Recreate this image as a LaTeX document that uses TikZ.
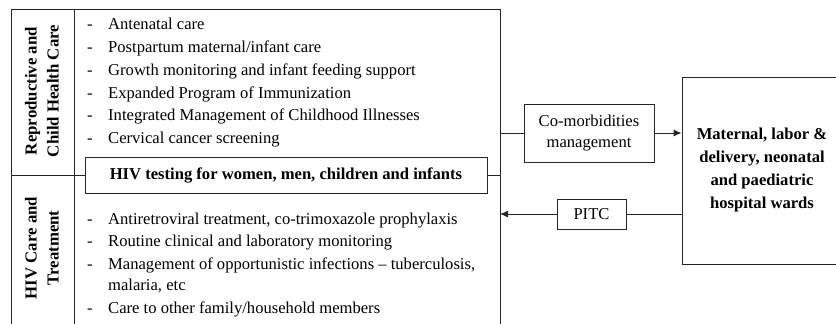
\documentclass[tikz,border=0pt]{standalone}
\usepackage{fontspec}
\setmainfont{Liberation Serif}
\usetikzlibrary{arrows.meta}
\begin{document}
\begin{tikzpicture}[x=1pt,y=-1pt,
  font=\fontsize{16.6}{23}\selectfont,
  ln/.style={line width=0.9pt, draw=black!85},
  box/.style={ln, rectangle, inner sep=0pt},
  itm/.style={anchor=base west, inner sep=0pt},
  arr/.style={ln, -{Latex[length=8pt,width=7pt]}}]
\useasboundingbox (0,0) rectangle (836,324);
% frame of the left panel (open at the bottom)
\coordinate (fBL) at (11,330);
\coordinate (fTL) at (11,9);
\coordinate (fTR) at (500,9);
\coordinate (fBR) at (500,330);
\coordinate (cT) at (74,9);
\coordinate (cB) at (74,330);
\coordinate (lD) at (11,175);
\draw[ln] (fBL) -- (fTL) -- (fTR) -- (fBR);
\draw[ln] (cT) -- (cB);
% section labels
\node[rotate=90, align=center, font=\fontsize{16.8}{22}\selectfont\bfseries] (rch) at (42,91) {Reproductive and\\Child Health Care};
\node[rotate=90, align=center, font=\fontsize{16.8}{22}\selectfont\bfseries] (hct) at (42,248) {HIV Care and\\Treatment};
% upper items
\node[itm] (d1) at (87,29) {-};  \node[itm] (t1) at (108,29) {Antenatal care};
\node[itm] (d2) at (87,52) {-};  \node[itm] (t2) at (108,52) {Postpartum maternal/infant care};
\node[itm] (d3) at (87,75) {-};  \node[itm] (t3) at (108,75) {Growth monitoring and infant feeding support};
\node[itm] (d4) at (87,98) {-};  \node[itm] (t4) at (108,98) {Expanded Program of Immunization};
\node[itm] (d5) at (87,120) {-}; \node[itm] (t5) at (108,120) {Integrated Management of Childhood Illnesses};
\node[itm] (d6) at (87,143) {-}; \node[itm] (t6) at (108,143) {Cervical cancer screening};
% HIV testing box
\node[box, draw, minimum width=402, minimum height=36, font=\fontsize{16.6}{23}\selectfont\bfseries] (hiv) at (286,175) {HIV testing for women, men, children and infants};
\draw[ln] (lD) -- (hiv.west);
% lower items
\node[itm] (e1) at (87,224) {-}; \node[itm] (u1) at (108,224) {Antiretroviral treatment, co-trimoxazole prophylaxis};
\node[itm] (e2) at (87,246) {-}; \node[itm] (u2) at (108,246) {Routine clinical and laboratory monitoring};
\node[itm] (e3) at (87,269) {-}; \node[itm] (u3) at (108,269) {Management of opportunistic infections – tuberculosis,};
\node[itm] (u3b) at (108,290) {malaria, etc};
\node[itm] (e4) at (87,313) {-}; \node[itm] (u4) at (108,313) {Care to other family/household members};
% right side
\coordinate (rA) at (500,133);
\node[box, draw, minimum width=130, minimum height=58, align=center, font=\fontsize{16.6}{21}\selectfont] (com) at (589,133) {Co-morbidities\\management};
\node[box, draw, minimum width=69, minimum height=30] (pitc) at (591.5,214) {PITC};
\node[box, draw, minimum width=160, minimum height=187, align=center, font=\fontsize{16.6}{23}\selectfont\bfseries] (ward) at (762,170.5) {Maternal, labor \&\\delivery, neonatal\\and paediatric\\hospital wards};
\draw[ln] (hiv.east) -- (hiv.east -| rA);
\draw[ln] (rA) -- (com.west);
\draw[arr] (com.east) -- (com.east -| ward.west);
\draw[ln] (pitc.east -| ward.west) -- (pitc.east);
\draw[arr] (pitc.west) -- (pitc.west -| rA);
\end{tikzpicture}
\end{document}
